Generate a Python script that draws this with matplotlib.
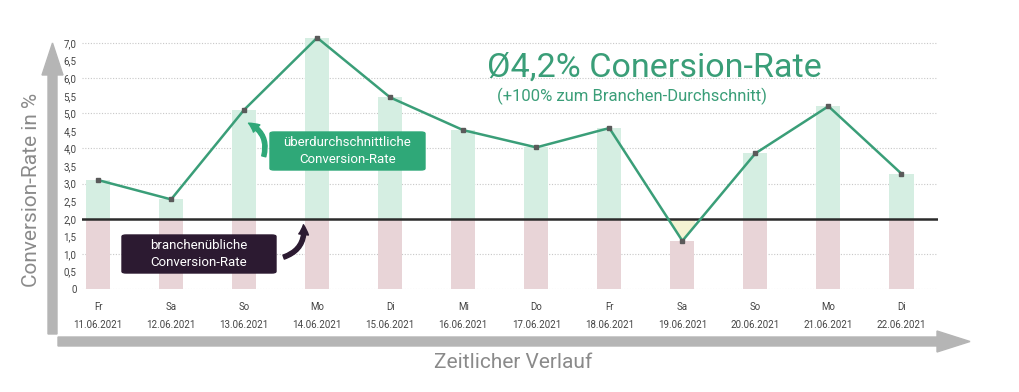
import numpy as np
import matplotlib
matplotlib.use("Agg")
import matplotlib.pyplot as plt
from matplotlib.patches import FancyArrow, FancyBboxPatch

plt.rcParams['font.family'] = ['Roboto', 'DejaVu Sans']

days = ["Fr", "Sa", "So", "Mo", "Di", "Mi", "Do", "Fr", "Sa", "So", "Mo", "Di"]
dates = ["11.06.2021", "12.06.2021", "13.06.2021", "14.06.2021", "15.06.2021", "16.06.2021",
         "17.06.2021", "18.06.2021", "19.06.2021", "20.06.2021", "21.06.2021", "22.06.2021"]
rates = [3.1, 2.55, 5.1, 7.15, 5.45, 4.52, 4.03, 4.58, 1.37, 3.86, 5.2, 3.28]
benchmark = 2.0
yticks = [0, 0.5, 1.0, 1.5, 2.0, 2.5, 3.0, 3.5, 4.0, 4.5, 5.0, 5.5, 6.0, 6.5, 7.0]
ytick_labels = ["0", "0,5", "1,0", "1,5", "2,0", "2,5", "3,0", "3,5", "4,0", "4,5",
                "5,0", "5,5", "6,0", "6,5", "7,0"]

GREEN = "#3a9e78"
BAR_GREEN = "#d5eee2"
BAR_PINK = "#e8d4d7"
YELLOW = "#f4f2d2"
GRAY_ARROW = "#b5b5b5"
TEXT_GRAY = "#8a8a8a"

W, H = 1020, 392
fig = plt.figure(figsize=(W / 100, H / 100), dpi=100)

ax_left, ax_right = 82, 938
y0_px = 289
ymax = 7.3
top_px = y0_px - ymax * 35.14
ax = fig.add_axes([ax_left / W, 1 - y0_px / H, (ax_right - ax_left) / W, (y0_px - top_px) / H])

x = np.arange(len(rates))
bw = 0.33
r = np.array(rates)
pink_h = np.minimum(r, benchmark)
green_h = np.maximum(r - benchmark, 0)
ax.bar(x, pink_h, width=bw, color=BAR_PINK, zorder=2)
ax.bar(x, green_h, bottom=benchmark, width=bw, color=BAR_GREEN, zorder=2)

for i, v in enumerate(rates):
    if v < benchmark:
        xs = np.linspace(i - bw / 2, i + bw / 2, 50)
        ys = np.interp(xs, x, r)
        ax.fill_between(xs, ys, benchmark, where=ys < benchmark, color=YELLOW, zorder=2.5, linewidth=0)

for g in range(0, 8):
    if g == 2:
        continue
    ax.axhline(g, color="#c8c8c8", lw=0.8, ls=(0, (1, 1.5)), zorder=1)
ax.axhline(benchmark, color="#2b2b2b", lw=1.8, zorder=4)

ax.plot(x, r, color=GREEN, lw=1.8, zorder=5)
ax.plot(x, r, ls="none", marker="s", ms=3, color="#5a5a5a", zorder=6)

ax.set_xlim(-0.22, 11.5)
ax.set_ylim(0, ymax)
ax.set_yticks(yticks)
ax.set_yticklabels(ytick_labels, fontsize=7, color="#444444")
ax.set_xticks(x)
ax.set_xticklabels([f"{d}\n{dt}" for d, dt in zip(days, dates)], fontsize=7, color="#444444", linespacing=2.1)
ax.tick_params(length=0, pad=4)
ax.tick_params(axis="x", pad=9)
for s in ax.spines.values():
    s.set_visible(False)

tr = fig.dpi_scale_trans
def px(xp, yp):
    return xp / 100, (H - yp) / 100
vx, vy = px(52.5, 334)
fig.patches.append(FancyArrow(vx, vy, 0, (334 - 43) / 100, width=0.09, head_width=0.21,
                              head_length=0.32, length_includes_head=True, color=GRAY_ARROW,
                              transform=tr, figure=fig))
hx, hy = px(58, 341.5)
fig.patches.append(FancyArrow(hx, hy, (970 - 58) / 100, 0, width=0.09, head_width=0.21,
                              head_length=0.33, length_includes_head=True, color=GRAY_ARROW,
                              transform=tr, figure=fig))

fig.text(32 / W, 1 - 190 / H, "Conversion-Rate in %", rotation=90, ha="center", va="center",
         fontsize=15, color=TEXT_GRAY)
fig.text(513 / W, 1 - 362 / H, "Zeitlicher Verlauf", ha="center", va="center",
         fontsize=15, color=TEXT_GRAY)

fig.text(487 / W, 1 - 68 / H, "Ø4,2% Conersion-Rate", ha="left", va="center",
         fontsize=24.6, color=GREEN)
fig.text(497 / W, 1 - 96 / H, "(+100% zum Branchen-Durchschnitt)", ha="left", va="center",
         fontsize=12, color=GREEN)

def box(x0, y0, x1, y1, color, text):
    fig.patches.append(FancyBboxPatch((x0 / W, 1 - y1 / H), (x1 - x0) / W, (y1 - y0) / H,
                                      boxstyle="round,pad=0,rounding_size=0.004", color=color,
                                      transform=fig.transFigure, figure=fig, zorder=10))
    fig.text((x0 + x1) / 2 / W, 1 - (y0 + y1) / 2 / H, text, ha="center", va="center",
             fontsize=9.5, color="white", linespacing=1.35, zorder=11)

box(270, 132, 425, 170, "#2fa878", "überdurchschnittliche\nConversion-Rate")
box(122, 235, 276, 273, "#2c1a31", "branchenübliche\nConversion-Rate")

fig.add_artist(matplotlib.patches.FancyArrowPatch(
    (263, H - 159), (246, H - 122), transform=None,
    connectionstyle="arc3,rad=0.45", arrowstyle="simple,head_width=7,head_length=7,tail_width=3",
    color="#2fa878", zorder=12))
fig.add_artist(matplotlib.patches.FancyArrowPatch(
    (281, H - 258), (303, H - 222), transform=None,
    connectionstyle="arc3,rad=0.45", arrowstyle="simple,head_width=7,head_length=7,tail_width=3",
    color="#2c1a31", zorder=12))

fig.savefig("out.png", dpi=100)
